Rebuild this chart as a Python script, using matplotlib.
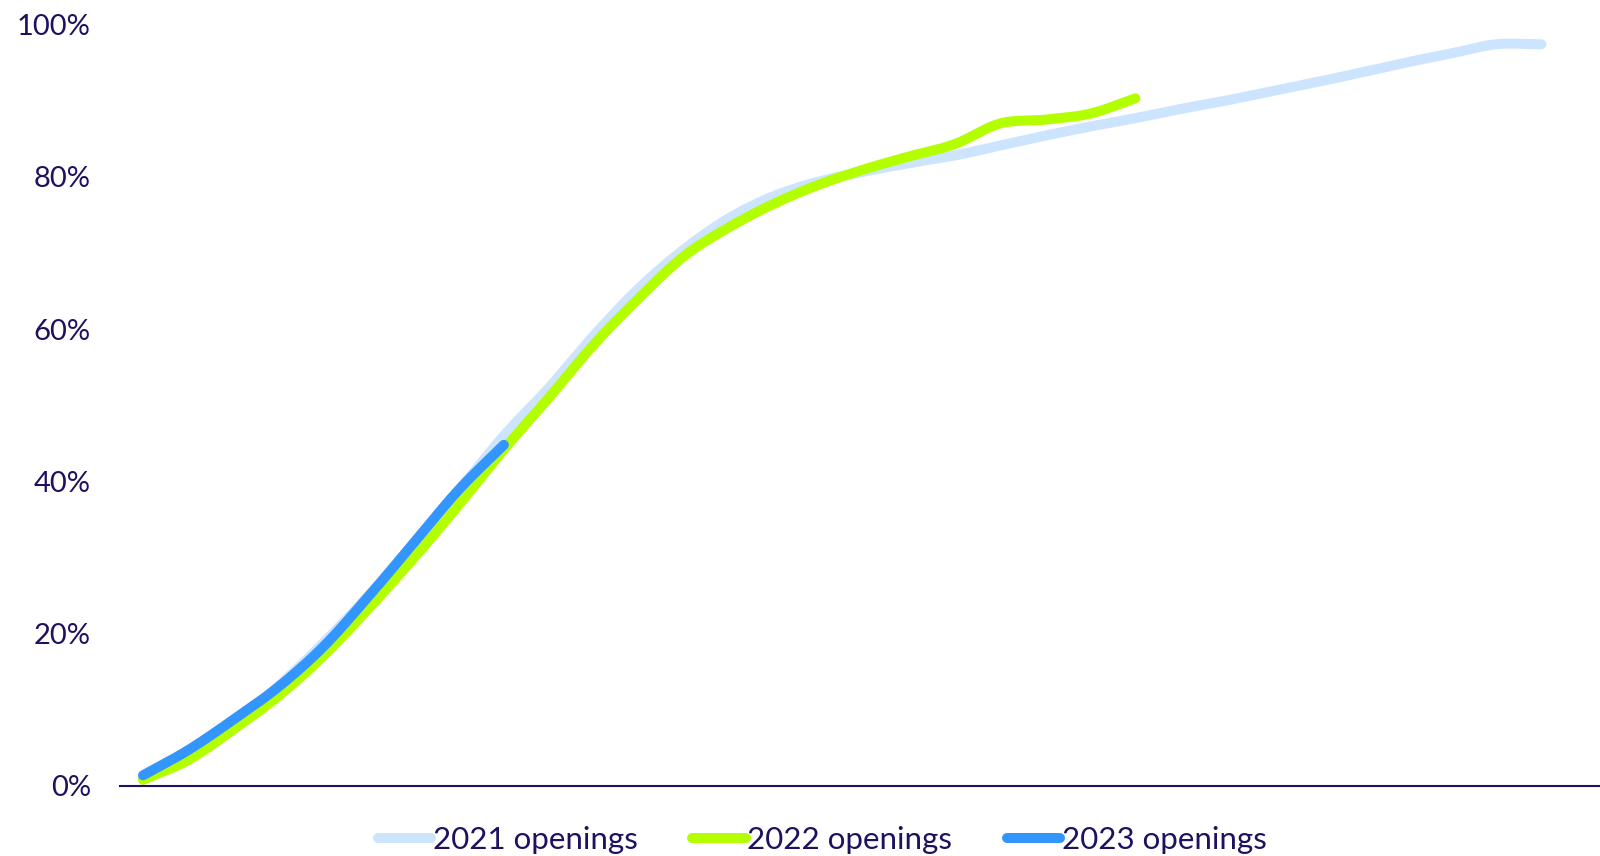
import numpy as np
import matplotlib.pyplot as plt

# cumulative share of openings, one value per period
openings_2021 = [1.0, 4.3, 8.2, 13.1, 18.8, 25.0, 31.7, 38.8, 46.0, 52.3,
                 59.2, 65.4, 70.5, 74.6, 77.5, 79.4, 80.7, 81.8, 82.8, 84.1,
                 85.4, 86.6, 87.7, 88.9, 90.0, 91.2, 92.4, 93.7, 95.0, 96.2,
                 97.4, 97.4]
openings_2022 = [0.8, 3.4, 7.4, 11.8, 17.1, 23.3, 29.9, 36.9, 44.2, 51.0,
                 58.0, 64.1, 69.6, 73.4, 76.5, 79.0, 81.0, 82.7, 84.3, 87.0,
                 87.5, 88.3, 90.3]
openings_2023 = [1.4, 4.7, 8.7, 13.0, 18.3, 24.9, 31.9, 38.9, 44.8]

labels = ['2021 openings', '2022 openings', '2023 openings']
colors = ['#cce4fd', '#b3ff00', '#3396ff']
navy = '#1c1260'


def smooth(y, n=20):
    # Catmull-Rom spline through the points
    y = np.asarray(y, dtype=float)
    p = np.concatenate([[2 * y[0] - y[1]], y, [2 * y[-1] - y[-2]]])
    xs, ys = [], []
    t = np.linspace(0, 1, n, endpoint=False)
    for i in range(len(y) - 1):
        p0, p1, p2, p3 = p[i], p[i + 1], p[i + 2], p[i + 3]
        seg = 0.5 * ((2 * p1) + (-p0 + p2) * t + (2 * p0 - 5 * p1 + 4 * p2 - p3) * t ** 2
                     + (-p0 + 3 * p1 - 3 * p2 + p3) * t ** 3)
        xs.append(i + t)
        ys.append(seg)
    xs.append([len(y) - 1])
    ys.append([y[-1]])
    return np.concatenate(xs), np.concatenate(ys)


plt.rcParams['font.family'] = ['Lato', 'DejaVu Sans']

fig = plt.figure(figsize=(16, 8.56), dpi=100)
ax = fig.add_axes([0.075, 0.0818, 0.925, 0.8896])

for data, color, label in zip([openings_2021, openings_2022, openings_2023], colors, labels):
    sx, sy = smooth(data)
    ax.plot(sx, sy, color=color, lw=7.2, solid_capstyle='round', label=label, clip_on=False)

ax.set_xlim(-0.51, 32.3)
ax.set_ylim(0, 100)
ax.set_yticks(range(0, 101, 20))
ax.set_yticklabels([f'{v}%' for v in range(0, 101, 20)])
ax.set_xticks([])
ax.tick_params(axis='y', length=0, pad=21, labelsize=21, labelcolor=navy)

for side in ['top', 'right', 'left']:
    ax.spines[side].set_visible(False)
ax.spines['bottom'].set_color(navy)
ax.spines['bottom'].set_linewidth(1.5)

leg = fig.legend(loc='lower center', bbox_to_anchor=(0.514, -0.03), ncol=3, frameon=False,
                 fontsize=22.5, handlelength=1.7, handletextpad=0.06, columnspacing=1.75)
for t in leg.get_texts():
    t.set_color(navy)

fig.savefig('out.png', dpi=100, facecolor='white')
